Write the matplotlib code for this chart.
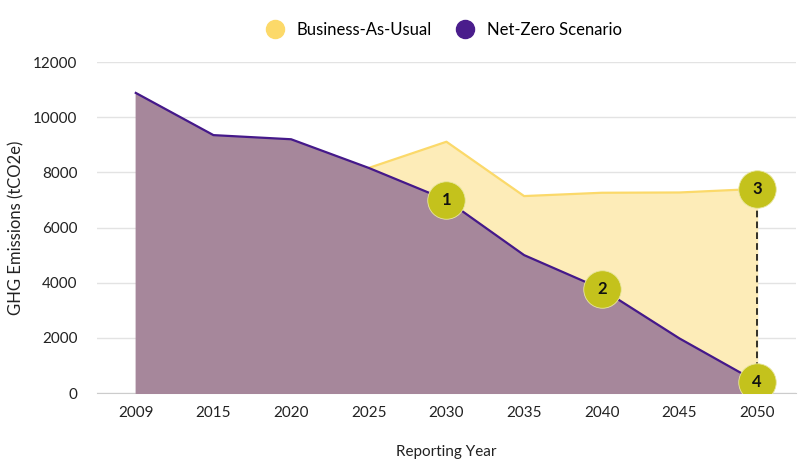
import numpy as np
import matplotlib.pyplot as plt
from matplotlib.lines import Line2D

plt.rcParams['font.family'] = ['Lato', 'DejaVu Sans']

years = ['2009', '2015', '2020', '2025', '2030', '2035', '2040', '2045', '2050']
net_zero = [10880, 9350, 9200, 8160, 7000, 5000, 3770, 1980, 400]
# business-as-usual only starts at 2025
bau_years = ['2025', '2030', '2035', '2040', '2045', '2050']
bau = [8160, 9110, 7140, 7260, 7270, 7400]

# numbered callouts: (year, value, label)
callout_years = ['2030', '2040', '2050', '2050']
callout_values = [7000, 3770, 7400, 400]
callout_labels = ['1', '2', '3', '4']

x = np.arange(len(years))
bau_x = [years.index(y) for y in bau_years]

fig = plt.figure(figsize=(8.08, 4.71), dpi=100)
ax = fig.add_axes([0.120, 0.1656, 0.865, 0.7027])

ax.fill_between(bau_x, bau, 0, color='#fdecb8', zorder=1)
ax.plot(bau_x, bau, color='#fbd96a', lw=1.6, zorder=2)
ax.fill_between(x, net_zero, 0, color='#a6879b', zorder=3)
ax.plot(x, net_zero, color='#45198a', lw=1.6, zorder=4)

# dashed gap line between BAU and net zero in 2050
i50 = years.index('2050')
ax.plot([i50, i50], [callout_values[2], callout_values[3]], color='#111111',
        lw=1.2, ls=(0, (4, 2.5)), zorder=5)

for yr, v, lab in zip(callout_years, callout_values, callout_labels):
    xi = years.index(yr)
    ax.plot(xi, v, 'o', ms=27, color='#c4c21c', mec='#e8e6a0', mew=0.6, zorder=6)
    ax.text(xi, v, lab, ha='center', va='center', fontsize=12,
            fontweight='bold', color='#111111', zorder=7)

ax.set_xlim(-0.5, 8.5)
ax.set_ylim(0, 12000)
ax.set_xticks(x)
ax.set_xticklabels(years)
ax.set_yticks(np.arange(0, 12001, 2000))
ax.grid(axis='y', color='#e3e3e3', lw=1, zorder=0)
ax.set_axisbelow(True)
for s in ['top', 'right', 'left']:
    ax.spines[s].set_visible(False)
ax.spines['bottom'].set_color('#cccccc')
ax.tick_params(axis='both', length=0, labelsize=11, colors='#222222')
ax.tick_params(axis='x', pad=9)
ax.tick_params(axis='y', pad=14)

ax.set_xlabel('Reporting Year', fontsize=11, color='#222222', labelpad=18)
ax.set_ylabel('GHG Emissions (tCO2e)', fontsize=12, color='#222222', labelpad=6)

handles = [Line2D([], [], ls='', marker='o', ms=13, color='#fcd969'),
           Line2D([], [], ls='', marker='o', ms=13, color='#4a1d8c')]
fig.legend(handles, ['Business-As-Usual', 'Net-Zero Scenario'], loc='center',
           bbox_to_anchor=(0.545, 0.936), ncol=2, frameon=False, fontsize=12,
           handletextpad=0.3, columnspacing=1.0)

fig.savefig('out.png', dpi=100)
